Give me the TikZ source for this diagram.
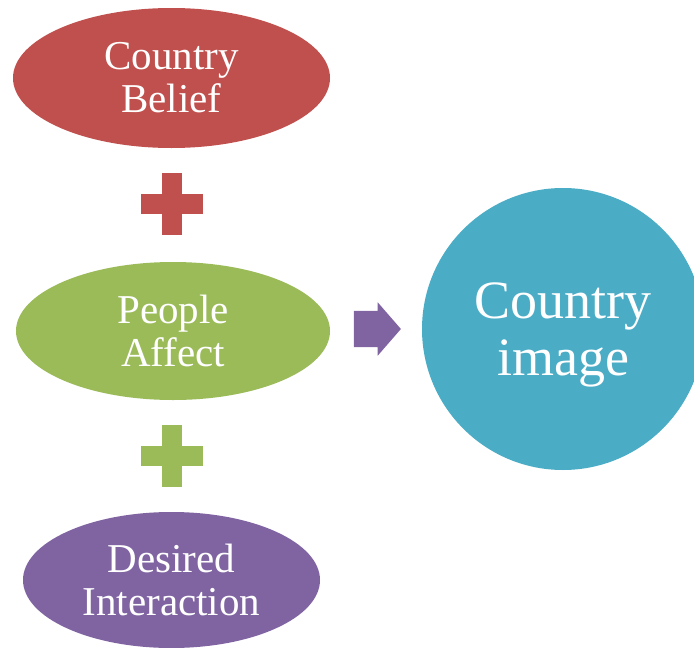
\documentclass[tikz,border=0pt]{standalone}
\usepackage{fontspec}
\setmainfont{Liberation Serif}
\usetikzlibrary{shapes.geometric,shapes.arrows}

\definecolor{beliefred}{HTML}{C0504D}
\definecolor{affectgreen}{HTML}{9BBB59}
\definecolor{interpurple}{HTML}{8064A2}
\definecolor{imageteal}{HTML}{4BACC6}

\begin{document}
\begin{tikzpicture}[x=1pt,y=-1pt,
	oval/.style={ellipse, fill=#1, text=white, inner sep=0pt, align=center,
		font=\fontsize{41}{43}\selectfont},
	plus/.style={minimum size=62pt, inner sep=0pt,
		path picture={
			\fill[#1] ([yshift=-10pt]path picture bounding box.west) rectangle ([yshift=10pt]path picture bounding box.east);
			\fill[#1] ([xshift=-10pt]path picture bounding box.south) rectangle ([xshift=10pt]path picture bounding box.north);}}]
		\useasboundingbox (0,0) rectangle (694,648);
		
		\node[oval=beliefred, minimum width=317pt, minimum height=140pt] (belief) at (171.5,78) {Country\\Belief};
		\node[plus=beliefred] (plusone) at (172,204) {};
		\node[oval=affectgreen, minimum width=314pt, minimum height=138pt] (affect) at (173,331) {People\\Affect};
		\node[plus=affectgreen] (plustwo) at (172,456) {};
		\node[oval=interpurple, minimum width=297pt, minimum height=136pt] (interaction) at (171.5,580) {Desired\\Interaction};
		
		\node[single arrow, fill=interpurple, inner xsep=0pt, inner ysep=18pt, minimum height=47pt,
			single arrow head extend=8.5pt, single arrow tip angle=98] (arrow) at (369.5,329) {};
		
		\node[circle, fill=imageteal, text=white, inner sep=0pt, minimum size=282pt, align=center,
			text depth=0pt, font=\fontsize{54}{57}\selectfont] (image) at (563,329) {Country\\image};
	\end{tikzpicture}
\end{document}
